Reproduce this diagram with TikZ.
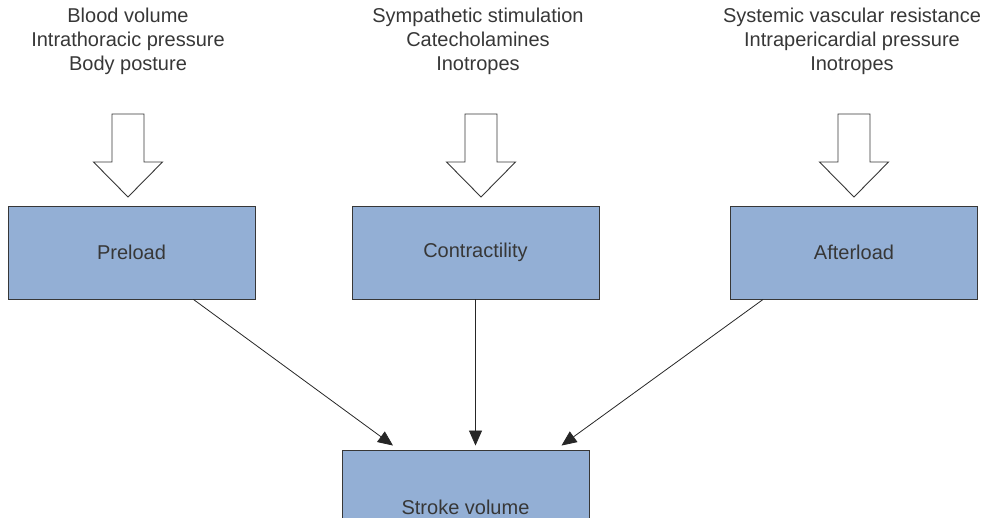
\documentclass[tikz,border=0pt]{standalone}
\usepackage{fontspec}
\setmainfont{Liberation Sans}
\usetikzlibrary{arrows.meta, positioning, calc}
\definecolor{boxblue}{RGB}{147,175,213}
\definecolor{inkgray}{RGB}{55,55,55}

\begin{document}
\begin{tikzpicture}[
  x=1pt, y=-1pt,
  box/.style={draw=inkgray, fill=boxblue, line width=0.9pt, minimum width=247pt,
    minimum height=93pt, inner sep=0pt, font=\fontsize{20}{24}\selectfont, text=inkgray},
  cause/.style={align=center, inner sep=0pt, font=\fontsize{20}{24}\selectfont, text=inkgray},
  fat/.style={draw=inkgray, fill=white, line width=0.9pt},
  link/.style={draw=black!85, line width=0.8pt, -{Triangle[length=15pt,width=13pt]}}
]
\clip (0,0) rectangle (985,518);
\useasboundingbox (0,0) rectangle (985,518);

% factors
\node[cause] (preIn) at (128,41) {Blood volume\\Intrathoracic pressure\\Body posture};
\node[cause] (conIn) at (478,41) {Sympathetic stimulation\\Catecholamines\\Inotropes};
\node[cause] (aftIn) at (852,41) {Systemic vascular resistance\\Intrapericardial pressure\\Inotropes};

% determinants
\node[box] (preload)  at (131.5,252.5) {Preload};
\node[box] (contract) at (475.5,252.5) {Contractility};
\node[box] (afterload) at (854,252.5) {Afterload};
\node[box, minimum height=114pt] (stroke) at (465.5,507) {Stroke volume};

% block arrows
\foreach \tx in {128,481,854}{
  \draw[fat] (\tx-16,114) -- (\tx+16,114) -- (\tx+16,162) -- (\tx+34.5,162)
    -- (\tx,197) -- (\tx-34.5,162) -- (\tx-16,162) -- cycle;
}

% links
\draw[link] ([xshift=-62pt]preload.south east) -- ([xshift=-72.5pt,yshift=4pt]stroke.north);
\draw[link] (contract.south) -- ($(contract.south |- stroke.north)+(0,-4)$);
\draw[link] ([xshift=33pt]afterload.south west) -- ([xshift=96pt,yshift=4pt]stroke.north);

\end{tikzpicture}
\end{document}
